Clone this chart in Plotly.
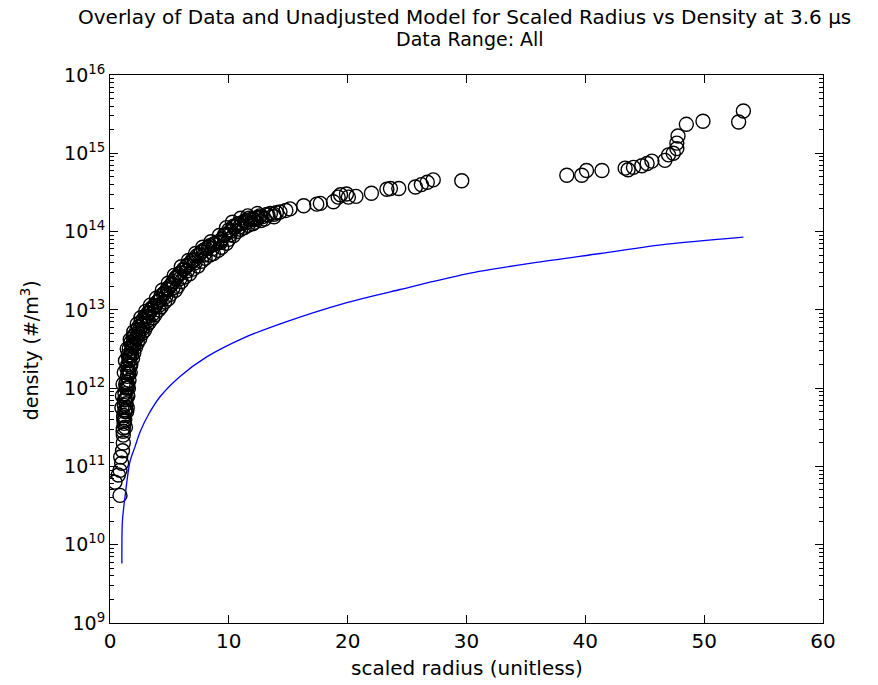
import numpy as np
import plotly.graph_objects as go

# ---- data ----
# measured points: scaled radius and log10(density)
data_radius = [
    0.84, 0.42, 0.70, 0.84, 0.98, 0.90, 1.05, 1.12, 1.12, 1.12, 1.20, 1.15, 1.26, 1.20, 1.30, 1.26,
    1.35, 1.40, 1.45, 1.54, 1.50, 1.60, 1.70, 1.80, 1.96, 2.00, 2.20, 2.38, 2.50, 2.70, 2.90, 3.09,
    3.30, 3.50, 3.80, 4.00, 4.20, 4.50, 4.80, 5.10, 5.33, 5.60, 5.90, 6.17, 6.50, 6.90, 7.30, 7.85,
    8.30, 8.80, 9.26, 9.60, 10.0, 10.4, 10.8, 11.3, 11.8, 12.3, 12.8, 13.3, 13.8, 14.3, 14.8, 15.15,
    16.3, 17.4, 17.7, 18.8, 19.2, 19.4, 19.9, 20.06, 20.7, 22.0, 23.3, 23.6, 24.3, 25.7, 26.2, 26.7,
    27.2, 29.6,
    38.44, 39.7, 40.1, 41.4, 43.35, 43.6, 44.05, 44.75, 45.2, 45.6, 46.7, 47.0, 47.4, 47.7, 47.7,
    47.8, 48.5, 49.9, 52.9, 53.3,
    1.0, 1.05, 1.1, 1.2, 1.3, 1.45, 1.7, 2.0, 2.3, 2.6, 3.0, 3.4, 3.9, 4.4, 4.9, 5.4, 6.0, 6.6,
    7.2, 7.8, 8.5, 9.2, 9.8, 10.3, 11.0, 11.6, 12.4,
    1.4, 1.5, 1.6, 1.75, 2.0, 2.3, 2.7, 3.1, 3.6, 4.1, 4.6, 5.1, 5.7, 6.3, 7.0, 7.7, 8.4, 9.1,
    9.8, 10.4, 11.0, 11.6, 12.2, 13.0, 13.8,
    1.25, 1.35, 1.45, 1.55, 1.65, 1.85, 2.1, 2.4, 2.8, 3.2, 3.7, 4.3, 4.9, 5.5, 6.2, 6.8, 7.5, 8.1,
    8.7, 9.4, 10.1, 10.7, 11.4, 12.0, 12.6, 13.2,
    1.3, 1.45, 1.55, 1.7, 1.9, 2.15, 2.5, 2.9, 3.3, 3.8, 4.3, 4.9, 5.5, 6.0, 6.7, 7.4, 8.0, 8.7,
    9.4, 10.0, 10.7, 11.3, 12.0, 12.7,
    1.15, 1.22, 1.32, 1.42, 1.52, 1.62, 1.75, 1.95, 2.25, 2.6, 3.0, 3.5, 4.0, 4.6, 5.2, 5.8, 6.4, 7.1,
    7.7, 8.4, 9.0, 9.7, 10.5, 11.1, 11.7, 12.5, 13.5, 14.0,
    1.1, 1.18, 1.28, 1.38, 1.48, 1.58, 1.68, 1.82, 2.05, 2.35, 2.75, 3.15, 3.6, 4.15, 4.7, 5.3, 5.9, 6.5,
    7.15, 7.9, 8.6, 9.3, 10.1, 10.9, 11.5, 12.1,
]
data_log_density = [
    10.63, 10.80, 10.89, 10.95, 11.04, 11.12, 11.20, 11.30, 11.40, 11.49, 11.55, 11.62, 11.70, 11.78, 11.85, 11.93,
    12.00, 12.08, 12.15, 12.22, 12.30, 12.36, 12.42, 12.48, 12.53, 12.60, 12.64, 12.70, 12.75, 12.80, 12.86, 12.91,
    12.96, 13.00, 13.05, 13.10, 13.13, 13.20, 13.26, 13.31, 13.36, 13.42, 13.47, 13.51, 13.57, 13.63, 13.69, 13.76,
    13.80, 13.84, 13.88, 13.95, 14.02, 14.07, 14.10, 14.13, 14.15, 14.17, 14.19, 14.21, 14.22, 14.25, 14.27, 14.29,
    14.33, 14.35, 14.36, 14.38, 14.44, 14.47, 14.48, 14.44, 14.45, 14.49, 14.54, 14.55, 14.55, 14.57, 14.60, 14.63,
    14.66, 14.65,
    14.72, 14.72, 14.78, 14.78, 14.81, 14.79, 14.82, 14.84, 14.87, 14.90, 14.91, 14.98, 15.00, 15.06, 15.13,
    15.22, 15.37, 15.41, 15.40, 15.54,
    11.75, 11.90, 12.05, 12.20, 12.35, 12.50, 12.62, 12.72, 12.82, 12.90, 12.98, 13.06, 13.15, 13.25, 13.34, 13.44, 13.55, 13.63,
    13.72, 13.80, 13.87, 13.95, 14.05, 14.12, 14.17, 14.20, 14.23,
    11.70, 11.90, 12.10, 12.30, 12.45, 12.58, 12.70, 12.80, 12.90, 13.00, 13.10, 13.20, 13.30, 13.42, 13.52, 13.62, 13.70, 13.76,
    13.85, 13.95, 14.03, 14.08, 14.12, 14.16, 14.19,
    11.60, 11.80, 12.00, 12.20, 12.40, 12.55, 12.68, 12.78, 12.88, 12.96, 13.05, 13.18, 13.28, 13.40, 13.52, 13.60, 13.70, 13.78,
    13.84, 13.90, 14.00, 14.08, 14.14, 14.16, 14.20, 14.22,
    11.50, 11.75, 12.00, 12.20, 12.38, 12.52, 12.63, 12.74, 12.84, 12.94, 13.04, 13.14, 13.25, 13.36, 13.46, 13.56, 13.66, 13.72,
    13.80, 13.90, 14.00, 14.05, 14.10, 14.14,
    11.65, 11.85, 12.05, 12.25, 12.42, 12.50, 12.58, 12.66, 12.74, 12.84, 12.92, 13.02, 13.10, 13.22, 13.33, 13.45, 13.55, 13.64,
    13.74, 13.82, 13.86, 13.96, 14.06, 14.11, 14.17, 14.18, 14.23, 14.24,
    11.45, 11.58, 11.72, 11.88, 12.05, 12.18, 12.28, 12.42, 12.56, 12.66, 12.76, 12.86, 12.95, 13.06, 13.17, 13.28, 13.40, 13.50,
    13.60, 13.70, 13.78, 13.86, 13.96, 14.06, 14.12, 14.15,
]

# unadjusted model curve
model_radius = [1.0, 1.04, 1.26, 1.68, 2.1, 2.53, 3.23, 4.21, 5.89, 8.14, 11.22, 14.87, 19.64,
                24.4, 30.02, 35.6, 41.25, 46.86, 53.3]
model_log_density = [9.76, 10.29, 10.61, 11.06, 11.25, 11.44, 11.66, 11.89, 12.15, 12.40, 12.64, 12.85, 13.08,
                     13.26, 13.46, 13.60, 13.72, 13.84, 13.93]

title_line1 = "Overlay of Data and Unadjusted Model for Scaled Radius vs Density at 3.6 µs"
title_line2 = "Data Range: All"
x_label = "scaled radius (unitless)"
y_label = "density (#/m<sup>3</sup>)"
x_ticks = [0, 10, 20, 30, 40, 50, 60]
y_decades = [9, 10, 11, 12, 13, 14, 15, 16]
y_tick_text = ["10<sup>9</sup>", "10<sup>10</sup>", "10<sup>11</sup>", "10<sup>12</sup>",
               "10<sup>13</sup>", "10<sup>14</sup>", "10<sup>15</sup>", "10<sup>16</sup>"]

FONT = "DejaVu Sans"

data_density = 10 ** np.array(data_log_density)
model_density = 10 ** np.array(model_log_density)
major_vals = [10.0 ** d for d in y_decades]
minor_vals = [m * 10.0 ** d for d in y_decades[:-1] for m in range(2, 10)]

fig = go.Figure()
fig.add_trace(go.Scatter(
    x=data_radius, y=data_density, mode="markers",
    marker=dict(symbol="circle-open", size=14, color="black", line=dict(width=1.4, color="black")),
    showlegend=False,
))
fig.add_trace(go.Scatter(
    x=model_radius, y=model_density, mode="lines",
    line=dict(color="#0000ff", width=1.3, shape="spline", smoothing=0.8),
    showlegend=False,
))

fig.update_layout(
    width=878, height=685,
    margin=dict(l=110, r=55, t=75, b=62),
    paper_bgcolor="white", plot_bgcolor="white",
    font=dict(family=FONT, size=20, color="black"),
    xaxis=dict(
        range=[0, 60], tickmode="array", tickvals=x_ticks, ticks="inside", ticklen=8,
        showline=True, linecolor="black", linewidth=1, mirror="ticks", showgrid=False,
        zeroline=False, tickfont=dict(size=20), color="black",
    ),
    yaxis=dict(
        type="log", range=[9, 16], tickmode="array", tickvals=major_vals, ticktext=y_tick_text,
        ticks="inside", ticklen=8,
        showline=True, linecolor="black", linewidth=1, mirror="ticks", showgrid=False,
        zeroline=False, tickfont=dict(size=19), color="black",
        minor=dict(tickmode="array", tickvals=minor_vals, ticks="inside", ticklen=4,
                   tickcolor="black", showgrid=False),
    ),
    annotations=[
        dict(text=title_line1, x=0.497, y=1.106, xref="paper", yref="paper",
             xanchor="center", yanchor="middle", showarrow=False, font=dict(size=20)),
        dict(text=title_line2, x=0.505, y=1.0657, xref="paper", yref="paper",
             xanchor="center", yanchor="middle", showarrow=False, font=dict(size=19)),
        dict(text=x_label, x=0.5, y=-0.082, xref="paper", yref="paper",
             xanchor="center", yanchor="middle", showarrow=False, font=dict(size=20)),
        dict(text=y_label, x=-0.112, y=0.498, xref="paper", yref="paper", textangle=-90,
             xanchor="center", yanchor="middle", showarrow=False, font=dict(size=19)),
    ],
)

fig.write_html("out.html")
